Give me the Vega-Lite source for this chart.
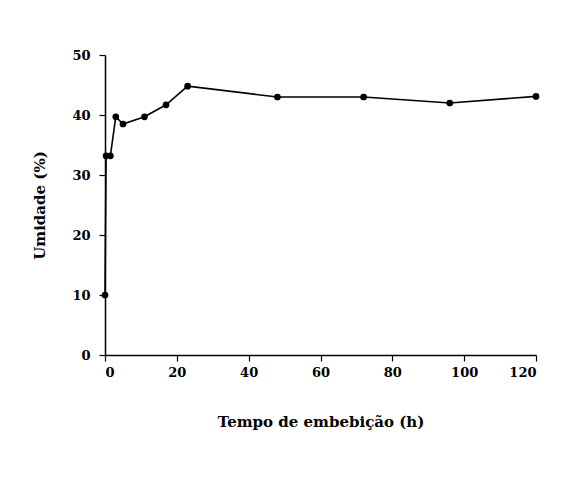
{
  "$schema": "https://vega.github.io/schema/vega-lite/v6.json",
  "width": 431,
  "height": 300,
  "autosize": {"type": "none"},
  "padding": {"left": 105, "top": 55, "right": 30, "bottom": 129},
  "background": "white",
  "data": {
    "values": [
      {"tempo": 0, "umidade": 10.0},
      {"tempo": 0.3, "umidade": 33.2},
      {"tempo": 1.5, "umidade": 33.2},
      {"tempo": 3, "umidade": 39.7},
      {"tempo": 5, "umidade": 38.5},
      {"tempo": 11, "umidade": 39.7},
      {"tempo": 17, "umidade": 41.7},
      {"tempo": 23, "umidade": 44.8},
      {"tempo": 48, "umidade": 43.0},
      {"tempo": 72, "umidade": 43.0},
      {"tempo": 96, "umidade": 42.0},
      {"tempo": 120, "umidade": 43.1}
    ]
  },
  "mark": {"type": "line", "color": "black", "strokeWidth": 1.6, "point": {"filled": true, "color": "black", "size": 45, "opacity": 1}},
  "encoding": {
    "x": {
      "field": "tempo", "type": "quantitative",
      "scale": {"domain": [0, 120], "nice": false},
      "axis": {"values": [0, 20, 40, 60, 80, 100, 120], "title": "Tempo de embebição (h)", "titlePadding": 35}
    },
    "y": {
      "field": "umidade", "type": "quantitative",
      "scale": {"domain": [0, 50], "nice": false},
      "axis": {"values": [0, 10, 20, 30, 40, 50], "title": "Umidade (%)", "titlePadding": 24, "labelPadding": 9}
    }
  },
  "config": {
    "view": {"stroke": null},
    "font": "DejaVu Serif",
    "axis": {
      "grid": false,
      "domainColor": "black",
      "domainWidth": 1.5,
      "tickColor": "black",
      "tickWidth": 1.2,
      "tickSize": 6,
      "labelFont": "DejaVu Serif",
      "labelFontWeight": "bold",
      "labelFontSize": 13,
      "labelColor": "black",
      "labelPadding": 5,
      "titleFont": "DejaVu Serif",
      "titleFontWeight": "bold",
      "titleFontSize": 15,
      "titleColor": "black"
    }
  }
}
